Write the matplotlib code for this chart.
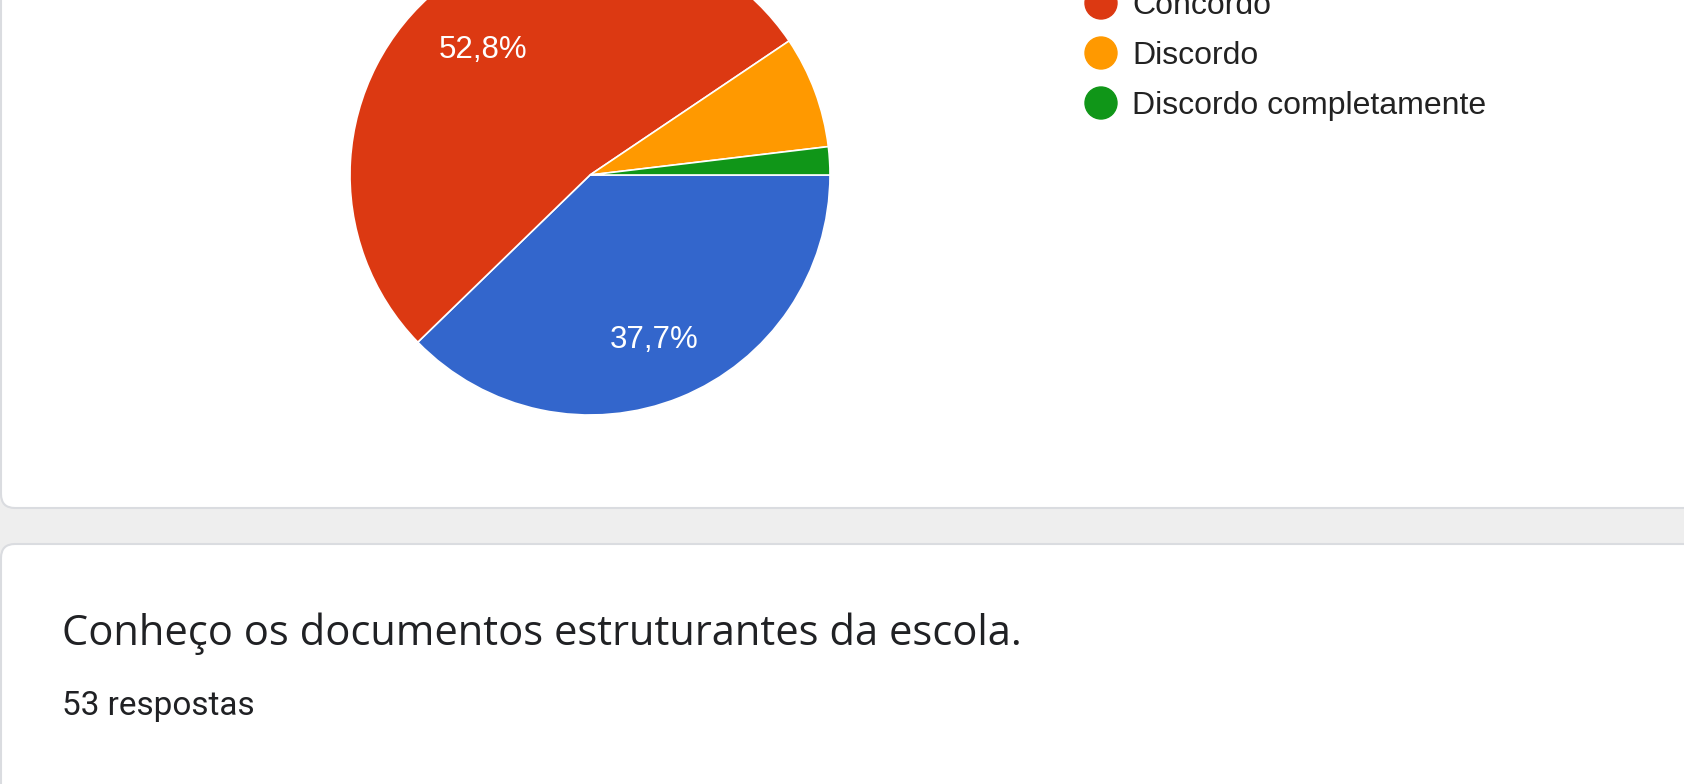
import matplotlib
matplotlib.use("Agg")
import matplotlib.pyplot as plt
from matplotlib.patches import FancyBboxPatch, Circle

# ==========================
# DATA
# ==========================
categories = ["Concordo completamente", "Concordo", "Discordo", "Discordo completamente"]
counts = [20, 28, 4, 1]          # 53 respostas
colors = ["#3366cc", "#dc3912", "#ff9900", "#109618"]

question = "Conheço os documentos estruturantes da escola."
n_label = "53 respostas"

# ==========================
# CANVAS (pixel coordinates, y down)
# ==========================
W, H = 1684, 784
fig = plt.figure(figsize=(W / 100, H / 100), dpi=100, facecolor="#eeeeee")
ax = fig.add_axes([0, 0, 1, 1])
ax.patch.set_visible(False)

# cards
card_kw = dict(boxstyle="round,pad=0,rounding_size=14", facecolor="white",
               edgecolor="#dadce0", linewidth=1.5, zorder=0)
ax.add_patch(FancyBboxPatch((1, -60), W + 60, 568, **card_kw))
ax.add_patch(FancyBboxPatch((1, 544), W + 60, 400, **card_kw))


def pct_label(p):
    if p < 10:
        return ""
    return f"{p:.1f}".replace(".", ",") + "%"


# y axis is inverted, so counterclock=True draws clockwise on screen
wedges, texts, autotexts = ax.pie(
    counts, colors=colors, startangle=0, counterclock=True,
    center=(590, 175), radius=240, autopct=pct_label, pctdistance=0.71,
    wedgeprops=dict(edgecolor="white", linewidth=1.2),
    textprops=dict(color="white", fontsize=22.5, family="Liberation Sans"),
)
for w in wedges:
    w.set_zorder(1)
for t in autotexts:
    x, y = t.get_position()
    t.set_position((x, y + 7))

ax.set_xlim(0, W)
ax.set_ylim(H, 0)
ax.set_aspect("auto")
ax.axis("off")

# legend (first entry lies above the visible area)
for i, (lab, col) in enumerate(zip(categories, colors)):
    y = -47 + i * 50
    ax.add_patch(Circle((1101, y), 16, color=col, zorder=2))
    ax.text(1132, y + 11, lab, fontsize=23, family="Liberation Sans",
            color="#222222", va="baseline", ha="left")

ax.text(62, 645, question, fontsize=30, family="Open Sans", color="#202124",
        va="baseline", ha="left")
ax.text(62, 715, n_label, fontsize=24, family="Roboto", color="#202124",
        va="baseline", ha="left")

fig.savefig("out.png", dpi=100, facecolor=fig.get_facecolor())
